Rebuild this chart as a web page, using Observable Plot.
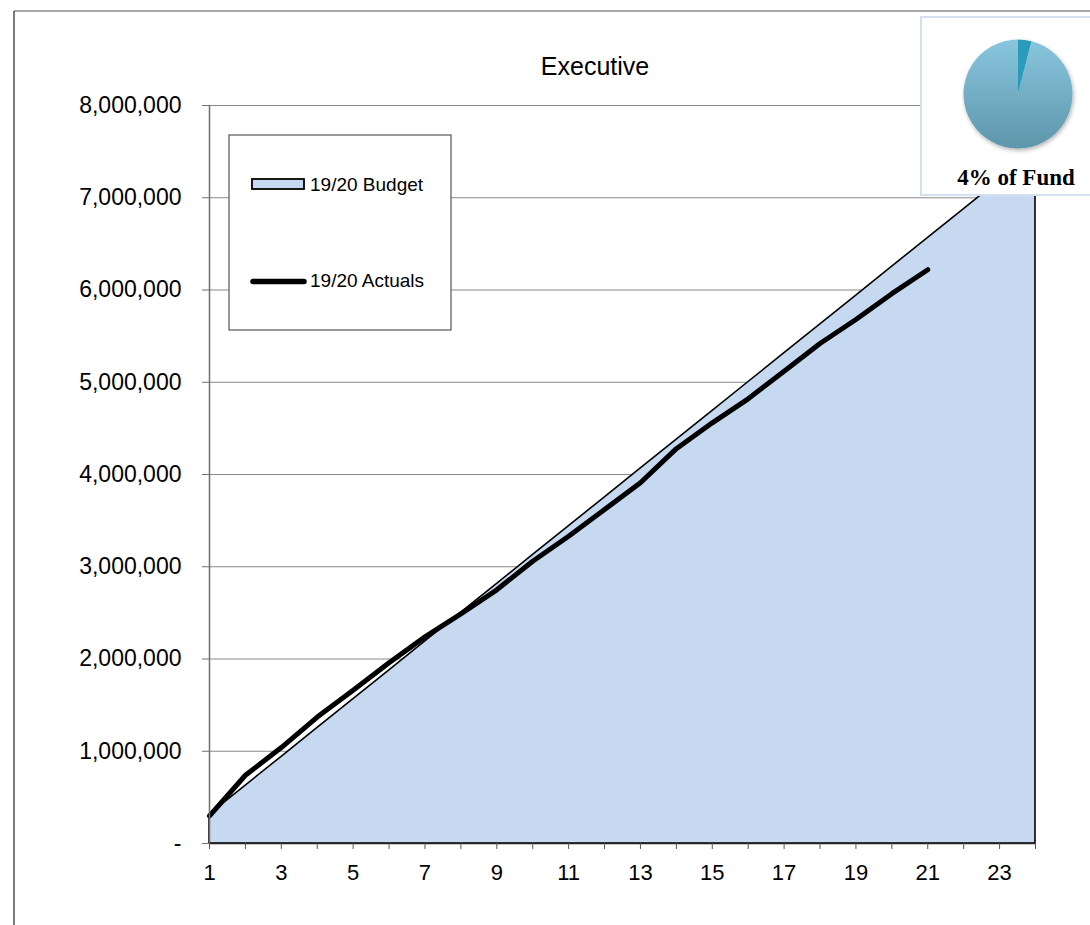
<!DOCTYPE html>
<html>
<head>
<meta charset="utf-8">
<script src="https://cdn.jsdelivr.net/npm/d3@7"></script>
<script src="https://cdn.jsdelivr.net/npm/@observablehq/plot@0.6"></script>
<style>
  html, body { margin: 0; padding: 0; background: #fff; }
  #wrap { position: relative; width: 1090px; height: 925px; overflow: hidden; }
  #wrap > svg { position: absolute; left: 0; top: 0; }
</style>
</head>
<body>
<div id="wrap"></div>
<script>
// ---- data ----
const title = "Executive";
const periods = [1,2,3,4,5,6,7,8,9,10,11,12,13,14,15,16,17,18,19,20,21,22,23,24];
const budget = [312500,625000,937500,1250000,1562500,1875000,2187500,2500000,2812500,3125000,3437500,3750000,
                4062500,4375000,4687500,5000000,5312500,5625000,5937500,6250000,6562500,6875000,7187500,7500000];
const actuals = [300000,740000,1040000,1370000,1660000,1960000,2240000,2490000,2750000,3060000,3330000,
                 3620000,3910000,4280000,4560000,4820000,5120000,5420000,5680000,5960000,6220000];
const yTicks = [0,1000000,2000000,3000000,4000000,5000000,6000000,7000000,8000000];
const gridValues = [1000000,2000000,3000000,4000000,5000000,6000000,7000000,8000000];
const seriesNames = ["19/20 Budget", "19/20 Actuals"];
const pieShares = [4, 96];
const pieLabel = "4% of Fund";

const budgetData = periods.map((p, i) => ({period: p, value: budget[i]}));
const actualData = actuals.map((v, i) => ({period: periods[i], value: v}));

const fmt = d3.format(",");
const chart = Plot.plot({
  width: 1090, height: 925,
  marginLeft: 209, marginRight: 55, marginTop: 105, marginBottom: 82,
  style: {fontFamily: "'Liberation Sans', Arial, sans-serif", background: "transparent", color: "#000"},
  x: {domain: [1, 24]},
  y: {domain: [0, 8000000]},
  marks: [
    Plot.ruleY(gridValues, {stroke: "#8a8a8a", strokeWidth: 1.2}),
    Plot.areaY(budgetData, {x: "period", y: "value", fill: "#c6d9f0", stroke: "#000", strokeWidth: 1.6}),
    Plot.line(actualData, {x: "period", y: "value", stroke: "#000", strokeWidth: 5, strokeLinejoin: "round", strokeLinecap: "round"}),
    Plot.ruleX([1], {stroke: "#6f6f6f", strokeWidth: 1.5}),
    Plot.ruleY([0], {stroke: "#222", strokeWidth: 1.5}),
    Plot.axisY({ticks: yTicks, tickFormat: d => d === 0 ? "-" : fmt(d), tickSize: 7, tickPadding: 21, fontSize: 23, label: null, stroke: "#6f6f6f"}),
    Plot.axisX({ticks: periods, tickFormat: d => d % 2 ? String(d) : "", tickSize: 6, tickPadding: 15, fontSize: 22, label: null, stroke: "#555"})
  ]
});
const wrap = document.getElementById("wrap");
wrap.appendChild(chart);

// ---- overlay: page frame, title, legend, pie inset ----
const ov = d3.select(wrap).append("svg")
  .attr("width", 1090).attr("height", 925)
  .style("font-family", "'Liberation Sans', Arial, sans-serif");

ov.append("line").attr("x1", 14).attr("x2", 1090).attr("y1", 11).attr("y2", 11).attr("stroke", "#8a8a8a").attr("stroke-width", 1.5);
ov.append("line").attr("x1", 14).attr("x2", 14).attr("y1", 11).attr("y2", 925).attr("stroke", "#222").attr("stroke-width", 1.2);

ov.append("text").attr("x", 595).attr("y", 75).attr("text-anchor", "middle")
  .attr("font-size", 25).attr("fill", "#000").text(title);

// legend
const lg = ov.append("g");
lg.append("rect").attr("x", 229).attr("y", 135).attr("width", 222).attr("height", 195)
  .attr("fill", "#fff").attr("stroke", "#555").attr("stroke-width", 1.2);
lg.append("rect").attr("x", 252).attr("y", 179).attr("width", 52).attr("height", 10)
  .attr("fill", "#c6d9f0").attr("stroke", "#000").attr("stroke-width", 1.8);
lg.append("text").attr("x", 310).attr("y", 191).attr("font-size", 19).attr("fill", "#000").text(seriesNames[0]);
lg.append("line").attr("x1", 253).attr("x2", 304).attr("y1", 281.5).attr("y2", 281.5)
  .attr("stroke", "#000").attr("stroke-width", 5.5).attr("stroke-linecap", "round");
lg.append("text").attr("x", 310).attr("y", 287).attr("font-size", 19).attr("fill", "#000").text(seriesNames[1]);

// pie inset
const defs = ov.append("defs");
const grad = defs.append("linearGradient").attr("id", "pieGrad").attr("x1", 0).attr("y1", 0).attr("x2", 0).attr("y2", 1);
grad.append("stop").attr("offset", "0%").attr("stop-color", "#88c6de");
grad.append("stop").attr("offset", "100%").attr("stop-color", "#5e96ab");
const shadow = defs.append("filter").attr("id", "pieShadow").attr("x", "-20%").attr("y", "-20%").attr("width", "140%").attr("height", "140%");
shadow.append("feDropShadow").attr("dx", 1).attr("dy", 2).attr("stdDeviation", 2).attr("flood-color", "#000").attr("flood-opacity", 0.3);

ov.append("rect").attr("x", 921).attr("y", 17).attr("width", 180).attr("height", 178)
  .attr("fill", "#fff").attr("stroke", "#d5e0ee").attr("stroke-width", 2);
const pie = d3.pie().sort(null).value(d => d)(pieShares);
const arc = d3.arc().innerRadius(0).outerRadius(54.5);
const pg = ov.append("g").attr("transform", "translate(1018,94)").attr("filter", "url(#pieShadow)");
pg.selectAll("path").data(pie).join("path")
  .attr("d", arc)
  .attr("fill", (d, i) => i === 0 ? "#2c9bbb" : "url(#pieGrad)");
ov.append("text").attr("x", 1016).attr("y", 185).attr("text-anchor", "middle")
  .attr("font-family", "'Liberation Serif', 'Times New Roman', serif").attr("font-weight", "bold")
  .attr("font-size", 23).attr("fill", "#000").text(pieLabel);
</script>
</body>
</html>
